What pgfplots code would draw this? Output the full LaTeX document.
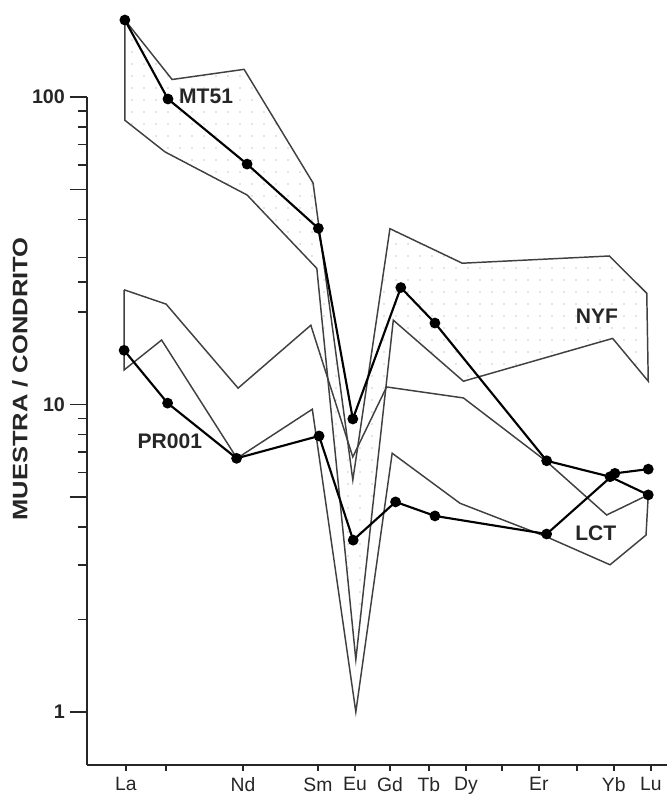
\documentclass[border=0pt]{standalone}
\usepackage{fontspec}
\setmainfont{Liberation Sans}
\newfontfamily\ylabfont[FakeStretch=1.22]{Liberation Sans}
\usepackage{pgfplots}
\pgfplotsset{compat=1.18}
\usetikzlibrary{patterns.meta}

\pgfplotstableread{
x y
56.97 178
58.23 114
60.15 123
61.99 52.5
63.05 5.68
64.04 37.3
65.97 28.8
69.89 30.4
70.89 23.0
70.93 11.9
69.98 16.4
66.00 11.9
64.13 18.8
63.13 1.48
62.09 27.7
60.23 48.0
58.04 66.3
56.97 84
56.97 178
}\nyf

\pgfplotstableread{
x y
56.95 23.6
58.07 21.2
59.99 11.3
61.93 18.1
63.05 6.75
63.95 11.4
66.00 10.5
68.22 6.52
69.82 4.37
70.93 5.08
70.87 3.76
69.91 3.01
68.22 3.71
65.91 4.77
64.10 6.94
63.13 1.0
61.97 9.65
59.96 6.68
57.95 16.2
56.95 12.95
56.95 23.6
}\lct

\pgfplotstableread{
x y
56.97 178
58.12 98.5
60.23 60.5
62.13 37.4
63.05 8.97
64.33 24.0
65.24 18.4
68.22 6.56
69.91 5.82
70.93 5.08
}\mtfiftyone

\pgfplotstableread{
x y
56.95 15.0
58.11 10.1
59.95 6.68
62.15 7.9
63.06 3.62
64.19 4.82
65.24 4.34
68.22 3.79
70.04 5.97
70.93 6.16
}\przero

\begin{document}
\begin{tikzpicture}
\begin{axis}[
  scale only axis, width=435pt, height=501pt,
  ymode=log, xmin=55.96, xmax=71.43, ymin=0.672, ymax=100,
  clip=false,
  axis x line*=bottom, axis y line*=left,
  axis line style={line width=1.4pt, black!85},
  tick align=outside,
  major tick length=13pt, minor tick length=7pt,
  every tick/.style={black!85, line width=1.1pt},
  /pgf/number format/assume math mode=true,
  xtick=\empty,
  extra x ticks={57,58.07,60.12,62.12,63.11,64.04,65.08,66.07,67.03,68.01,69.03,70.01,71},
  extra x tick labels={La,,Nd,Sm,Eu,Gd,Tb,Dy,,Er,,Yb,Lu},
  extra x tick style={major tick length=4.5pt, tick label style={font=\fontsize{14.5}{16}\selectfont, color=black!85, yshift=-1.5pt}},
  ytick={1,5,10,50,100}, yticklabels={1,,10,,100},
  minor ytick={2,3,4,6,7,8,9,20,25,30,40,60,70,80,90},
  yticklabel style={font=\bfseries\fontsize{14.8}{16}\selectfont, color=black!85},
  ylabel={MUESTRA / CONDRITO},
  ylabel style={at={(rel axis cs:-0.1155,0.578)}, anchor=center, rotate=0, font=\ylabfont\bfseries\fontsize{15.7}{18}\selectfont, color=black!85},
]
\addplot[draw=black!75, line width=1.1pt, pattern={Dots[distance=9pt, radius=0.5pt]}, pattern color=black!45] table[x=x,y=y] {\nyf};
\addplot[draw=black!75, line width=1.1pt] table[x=x,y=y] {\lct};
\addplot[black, line width=1.6pt, mark=*, mark size=3.2pt, mark options={solid, fill=black}] table[x=x,y=y] {\mtfiftyone};
\addplot[black, line width=1.6pt, mark=*, mark size=3.2pt, mark options={solid, fill=black}] table[x=x,y=y] {\przero};
\node[anchor=west, inner sep=0pt, font=\bfseries\fontsize{15.8}{18}\selectfont, black!85] at (axis cs:58.41,100.7) {MT51};
\node[inner sep=0pt, font=\bfseries\fontsize{15.8}{18}\selectfont, black!85] at (axis cs:58.17,7.58) {PR001};
\node[inner sep=0pt, font=\bfseries\fontsize{15.8}{18}\selectfont, black!85] at (axis cs:69.56,19.4) {NYF};
\node[inner sep=0pt, font=\bfseries\fontsize{15.8}{18}\selectfont, black!85] at (axis cs:69.53,3.82) {LCT};
\coordinate (bbSW) at (rel axis cs:-0.15,-0.0464);
\coordinate (bbNE) at (rel axis cs:1,1.1452);
\end{axis}
\pgfresetboundingbox
\path[use as bounding box] (bbSW) rectangle (bbNE);
\end{tikzpicture}
\end{document}
